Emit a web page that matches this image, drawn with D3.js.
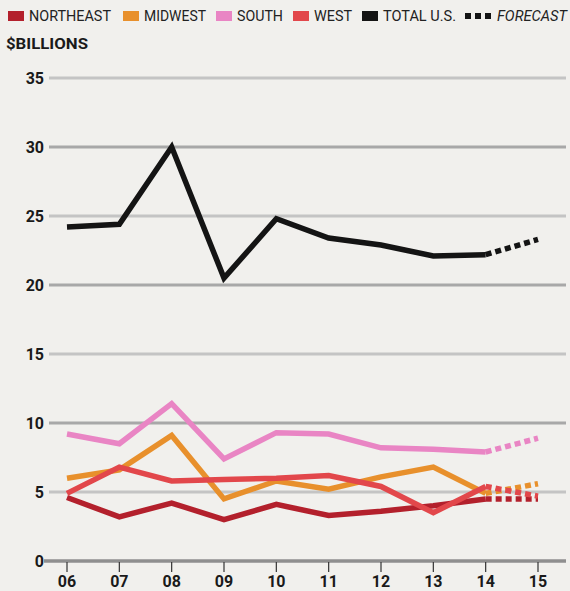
<!DOCTYPE html>
<html>
<head>
<meta charset="utf-8">
<script src="https://cdn.jsdelivr.net/npm/d3@7"></script>
<style>
  body { margin: 0; background: #f1f0ed; }
  svg { display: block; font-family: Roboto, "Open Sans", sans-serif; }
</style>
</head>
<body>
<div id="chart"></div>
<script>
// data
const years = ['06', '07', '08', '09', '10', '11', '12', '13', '14', '15'];
const yTicks = [0, 5, 10, 15, 20, 25, 30, 35];

// actuals run 06-14, forecast is 14-15
const northeast = [4.6, 3.2, 4.2, 3.0, 4.1, 3.3, 3.6, 4.0, 4.5];
const midwest = [6.0, 6.6, 9.1, 4.5, 5.8, 5.2, 6.1, 6.8, 4.9];
const south = [9.2, 8.5, 11.4, 7.4, 9.3, 9.2, 8.2, 8.1, 7.9];
const west = [4.9, 6.8, 5.8, 5.9, 6.0, 6.2, 5.4, 3.5, 5.4];
const total = [24.2, 24.4, 30.0, 20.5, 24.8, 23.4, 22.9, 22.1, 22.2];

const northeastForecast = [4.5, 4.5];
const midwestForecast = [4.9, 5.6];
const southForecast = [7.9, 8.9];
const westForecast = [5.4, 4.7];
const totalForecast = [22.2, 23.3];

const series = [
  { name: 'NORTHEAST', color: '#b3202c', values: northeast, forecast: northeastForecast },
  { name: 'MIDWEST', color: '#e8902c', values: midwest, forecast: midwestForecast },
  { name: 'SOUTH', color: '#e985c4', values: south, forecast: southForecast },
  { name: 'WEST', color: '#e2474b', values: west, forecast: westForecast },
  { name: 'TOTAL U.S.', color: '#141414', values: total, forecast: totalForecast }
];

const width = 570, height = 591;

const svg = d3.select('#chart').append('svg')
  .attr('width', width)
  .attr('height', height);

const x = d3.scalePoint()
  .domain(years)
  .range([67, 538]);

const y = d3.scaleLinear()
  .domain([0, 35])
  .range([561, 78]);

// grid lines, every 10 a bit darker
svg.append('g')
  .selectAll('line')
  .data(yTicks)
  .join('line')
  .attr('x1', d => d === 0 ? 44 : 49)
  .attr('x2', 566)
  .attr('y1', d => y(d))
  .attr('y2', d => y(d))
  .attr('stroke', d => d === 0 ? '#8f8f8f' : (d % 10 === 0 ? '#a8a8a8' : '#c4c4c4'))
  .attr('stroke-width', d => d === 0 ? 3.5 : 3);

// y labels
svg.append('g')
  .selectAll('text')
  .data(yTicks)
  .join('text')
  .attr('x', 44)
  .attr('y', d => y(d))
  .attr('dy', '0.36em')
  .attr('text-anchor', 'end')
  .style('font-size', '16px')
  .style('font-weight', 'bold')
  .style('fill', '#1a1a1a')
  .text(d => d);

// x axis ticks and labels
const xAxis = svg.append('g');
xAxis.selectAll('line')
  .data(years)
  .join('line')
  .attr('x1', d => x(d))
  .attr('x2', d => x(d))
  .attr('y1', 562)
  .attr('y2', 572)
  .attr('stroke', '#333')
  .attr('stroke-width', 1.2);
xAxis.selectAll('text')
  .data(years)
  .join('text')
  .attr('x', d => x(d))
  .attr('y', 587)
  .attr('text-anchor', 'middle')
  .style('font-size', '16px')
  .style('font-weight', 'bold')
  .style('fill', '#1a1a1a')
  .text(d => d);

const line = d3.line()
  .x(d => x(d[0]))
  .y(d => y(d[1]));

// forecast dotted lines
series.forEach(s => {
  svg.append('path')
    .datum(s.forecast.map((v, i) => [years[8 + i], v]))
    .attr('d', line)
    .attr('fill', 'none')
    .attr('stroke', s.color)
    .attr('stroke-width', 5.5)
    .attr('stroke-dasharray', '6,4');
});

// actual lines
series.forEach(s => {
  svg.append('path')
    .datum(s.values.map((v, i) => [years[i], v]))
    .attr('d', line)
    .attr('fill', 'none')
    .attr('stroke', s.color)
    .attr('stroke-width', 5.5)
    .attr('stroke-linejoin', 'miter');
});

// legend (square x, text width)
const legendX = [8, 123, 216, 293, 362];
const legendW = [82, 62, 46, 38, 73];
const legend = svg.append('g');
series.forEach((s, i) => {
  legend.append('rect')
    .attr('x', legendX[i])
    .attr('y', 11)
    .attr('width', 16)
    .attr('height', 10)
    .attr('fill', s.color);
  legend.append('text')
    .attr('x', legendX[i] + 21)
    .attr('y', 21)
    .attr('textLength', legendW[i])
    .attr('lengthAdjust', 'spacingAndGlyphs')
    .style('font-size', '15px')
    .style('fill', '#222')
    .text(s.name);
});
[465, 475, 485].forEach(px => {
  legend.append('rect')
    .attr('x', px)
    .attr('y', 13)
    .attr('width', 6)
    .attr('height', 6)
    .attr('fill', '#141414');
});
legend.append('text')
  .attr('x', 497)
  .attr('y', 21)
  .attr('textLength', 70)
  .attr('lengthAdjust', 'spacingAndGlyphs')
  .style('font-size', '15px')
  .style('font-style', 'italic')
  .style('fill', '#222')
  .text('FORECAST');

svg.append('text')
  .attr('x', 6)
  .attr('y', 49)
  .attr('textLength', 82)
  .attr('lengthAdjust', 'spacingAndGlyphs')
  .style('font-size', '15.5px')
  .style('font-weight', 'bold')
  .style('fill', '#1a1a1a')
  .text('$BILLIONS');
</script>
</body>
</html>
